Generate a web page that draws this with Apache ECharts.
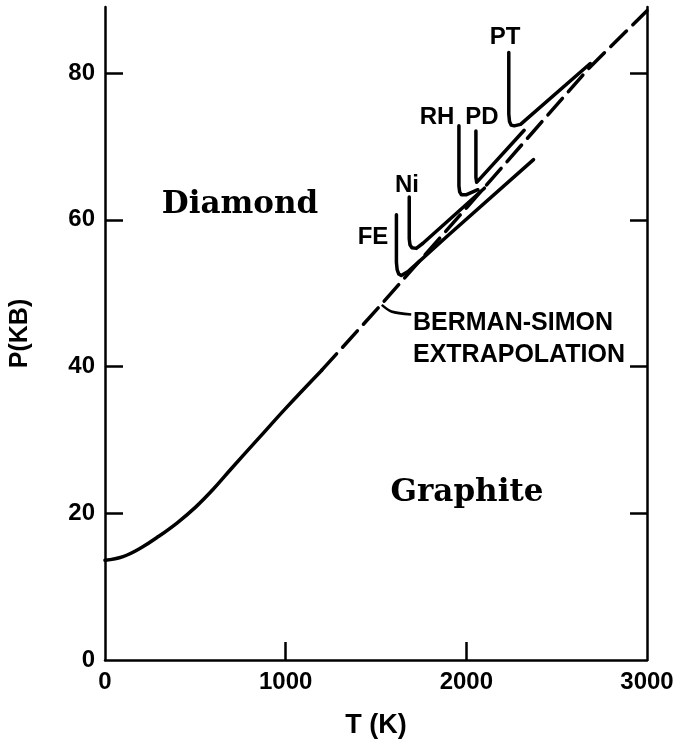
<!DOCTYPE html>
<html>
<head>
<meta charset="utf-8">
<script src="https://cdn.jsdelivr.net/npm/echarts@6/dist/echarts.min.js"></script>
<style>
  html, body { margin: 0; padding: 0; background: #fff; }
  #chart { width: 681px; height: 744px; }
</style>
</head>
<body>
<div id="chart"></div>
<script>
// graphite / diamond equilibrium, T in K, P in kbar
var measuredCurve = [[0, 13.6], [100, 14.1], [200, 15.3], [300, 16.9], [400, 18.7], [500, 20.8], [600, 23.3], [700, 26.1], [850, 30.2], [1000, 34.3], [1200, 39.5]]
// Berman-Simon extrapolation (dashed part)
var bermanSimon = [[1200, 39.5], [1520, 48.2], [2000, 61.6], [2370, 72.0], [2680, 80.7], [3000, 88.5]]
// metal-carbon eutectic lines (hook + line)
var feLine = [[1613, 60.7], [1613, 54.2], [1617, 53.2], [1626, 52.6], [1640, 52.4], [1680, 53.0], [1900, 57.9], [2372, 68.2]]
var niLine = [[1684, 63.1], [1684, 57.4], [1688, 56.6], [1698, 56.2], [1723, 56.1], [1760, 56.8], [2100, 64.3]]
var rhLine = [[1959, 72.8], [1959, 64.6], [1963, 63.8], [1973, 63.4], [1998, 63.4], [2064, 64.1]]
var pdLine = [[2053, 72.1], [2053, 65.8], [2057, 65.1], [2066, 64.9], [2320, 72.2]]
var ptLine = [[2235, 82.8], [2235, 74.4], [2239, 73.4], [2248, 72.9], [2265, 72.8], [2300, 73.0], [2686, 81.3]]
var pointer = [[1695, 47.1], [1585, 47.5], [1532, 48.4]]

var xTicks = [0, 1000, 2000, 3000]
var yTicks = [0, 20, 40, 60, 80]
var innerTicks = [20, 40, 60, 80]
var xInnerTicks = [1000, 2000]

var chart = echarts.init(document.getElementById('chart'))

var labelFont = 'Liberation Sans'

function lineSeries(data, dashed, smooth) {
  return {
    type: 'line',
    data: data,
    showSymbol: false,
    silent: true,
    smooth: smooth || false,
    lineStyle: {
      color: '#000',
      width: 3.5,
      type: dashed ? [22, 9] : 'solid',
      cap: 'round',
      join: 'round'
    }
  }
}

function txt(text, x, y, size, font, align, weight) {
  return {
    type: 'text',
    x: x,
    y: y,
    style: {
      text: text,
      fill: '#000',
      font: (weight || 'bold') + ' ' + size + 'px "' + font + '"',
      textAlign: align || 'center',
      textVerticalAlign: 'middle'
    }
  }
}

var option = {
  animation: false,
  backgroundColor: '#fff',
  grid: { left: 102, right: 34, top: 7, bottom: 72, containLabel: false },
  xAxis: {
    type: 'value',
    min: 0,
    max: 3000,
    interval: 1000,
    name: 'T (K)',
    nameLocation: 'middle',
    nameGap: 52,
    nameTextStyle: { fontFamily: labelFont, fontWeight: 'bold', fontSize: 27, color: '#000' },
    splitLine: { show: false },
    axisLine: { lineStyle: { color: '#000', width: 2.5 } },
    axisTick: { inside: true, length: 18, customValues: xInnerTicks, lineStyle: { color: '#000', width: 2.5 } },
    axisLabel: {
      customValues: xTicks,
      margin: 10,
      formatter: function (v) { return String(v) },
      fontFamily: labelFont, fontWeight: 'bold', fontSize: 24, color: '#000'
    }
  },
  yAxis: [
    {
      type: 'value',
      min: 0,
      max: 89,
      name: 'P(KB)',
      nameLocation: 'middle',
      nameGap: 72,
      nameRotate: 90,
      nameTextStyle: { fontFamily: labelFont, fontWeight: 'bold', fontSize: 25, color: '#000' },
      splitLine: { show: false },
      axisLine: { show: true, lineStyle: { color: '#000', width: 2.5 } },
      axisTick: { inside: true, length: 18, customValues: innerTicks, lineStyle: { color: '#000', width: 2.5 } },
      axisLabel: { customValues: yTicks, margin: 10, fontFamily: labelFont, fontWeight: 'bold', fontSize: 24, color: '#000' }
    },
    {
      type: 'value',
      min: 0,
      max: 89,
      position: 'right',
      splitLine: { show: false },
      axisLine: { show: true, lineStyle: { color: '#000', width: 2.5 } },
      axisTick: { inside: true, length: 17, customValues: innerTicks, lineStyle: { color: '#000', width: 2.5 } },
      axisLabel: { show: false }
    }
  ],
  series: [
    lineSeries(measuredCurve, false, 0.4),
    lineSeries(bermanSimon, true),
    lineSeries(feLine, false),
    lineSeries(niLine, false),
    lineSeries(rhLine, false),
    lineSeries(pdLine, false),
    lineSeries(ptLine, false),
    Object.assign(lineSeries(pointer, false, 0.3), { lineStyle: { color: '#000', width: 2.5 } })
  ],
  graphic: [
    txt('Diamond', 240, 205, 31, 'DejaVu Serif'),
    txt('Graphite', 467, 493, 31, 'DejaVu Serif'),
    txt('BERMAN-SIMON', 413, 323, 25, labelFont, 'left'),
    txt('EXTRAPOLATION', 413, 355, 25, labelFont, 'left'),
    txt('FE', 373, 237, 24, labelFont),
    txt('Ni', 407, 185, 24, labelFont),
    txt('RH', 437, 117, 24, labelFont),
    txt('PD', 482, 117, 24, labelFont),
    txt('PT', 505, 37, 24, labelFont)
  ]
}

chart.setOption(option)
</script>
</body>
</html>
